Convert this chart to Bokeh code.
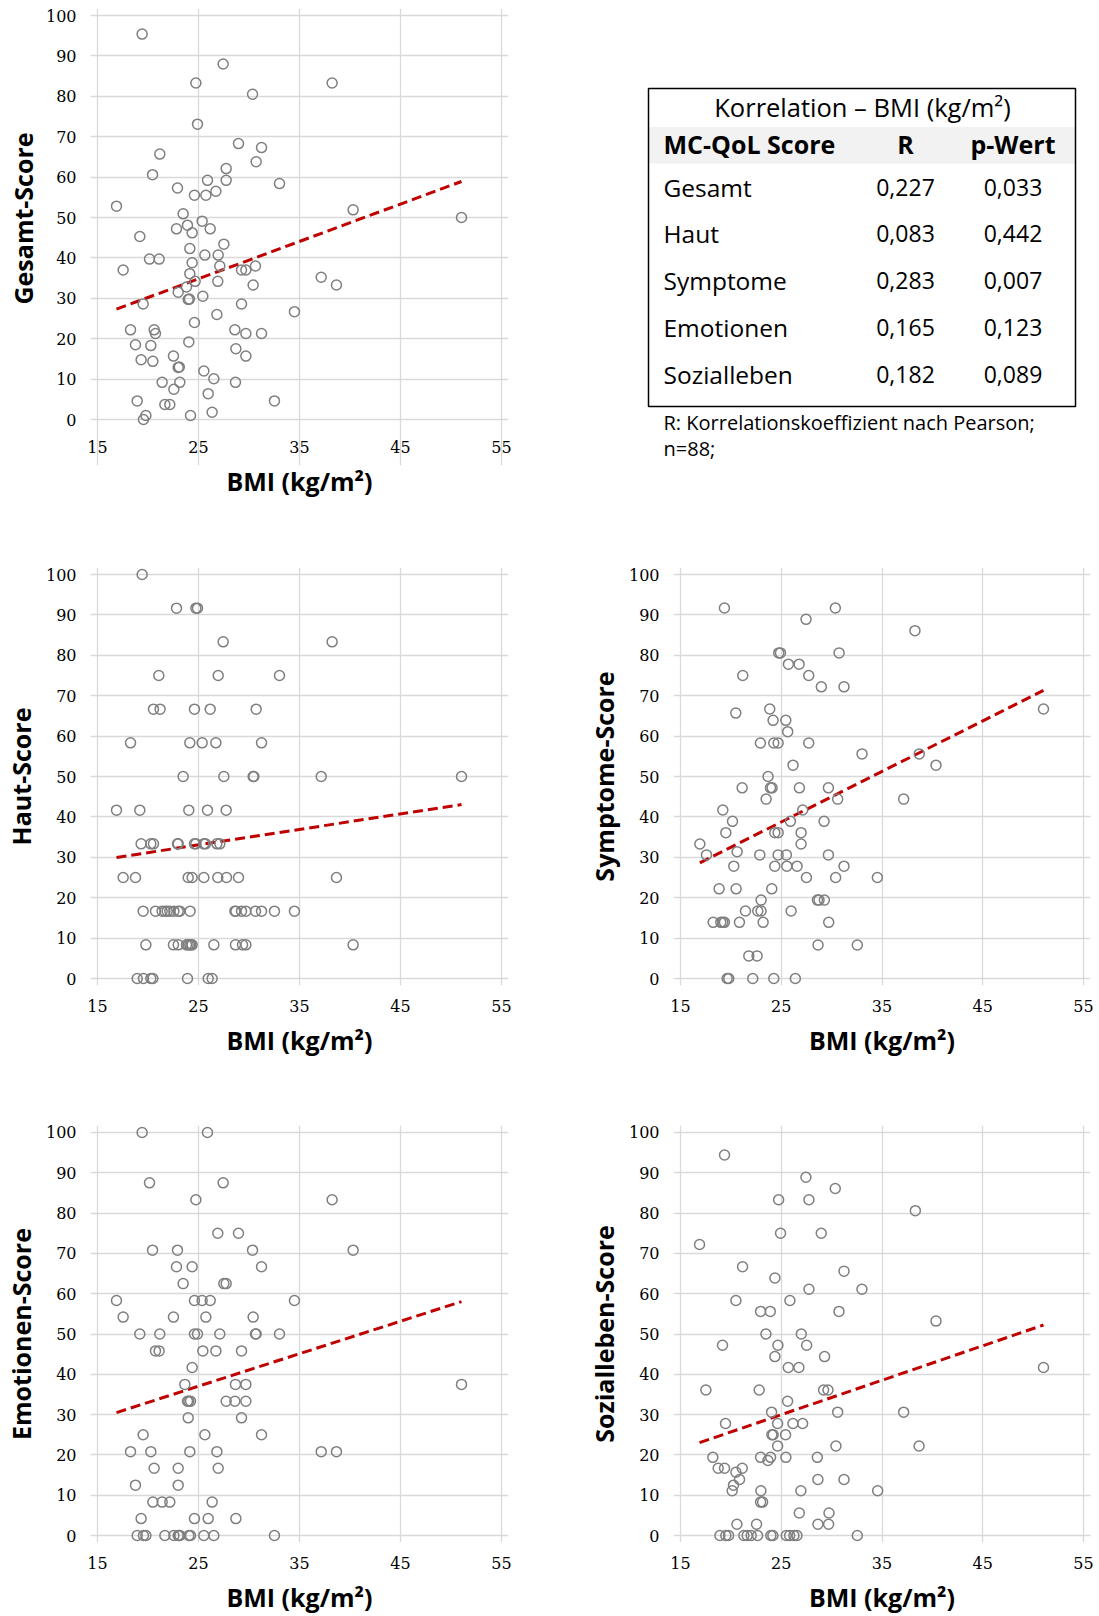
from bokeh.plotting import figure
from bokeh.layouts import row, column
from bokeh.models import Range1d, FixedTicker, Title
from bokeh.core.properties import value
from bokeh.embed import file_html
from bokeh.resources import INLINE

# ---------------------------------------------------------------- data
x_ticks = [15, 25, 35, 45, 55]
y_ticks = [0, 10, 20, 30, 40, 50, 60, 70, 80, 90, 100]
x_title = "BMI (kg/m²)"

gesamt_bmi = [19.42, 27.44, 24.74, 38.23, 30.35, 24.90, 28.96, 31.24, 21.17, 30.71,
              27.74, 20.45, 25.89, 27.74, 33.02, 22.92, 26.72, 24.60, 25.73, 16.88,
              40.31, 23.48, 51.04, 25.36, 23.91, 22.82, 26.16, 24.37, 19.19, 27.51,
              24.14, 20.15, 21.10, 25.63, 26.95, 24.37, 27.11, 30.64, 17.54, 29.26,
              29.69, 24.14, 37.15, 24.67, 26.91, 30.41, 38.66, 23.81, 22.99, 25.43,
              23.98, 24.10, 19.52, 29.26, 34.50, 26.82, 24.60, 18.27, 20.61, 20.74,
              28.60, 29.69, 31.24, 24.04, 18.76, 20.28, 28.70, 19.32, 20.48, 22.52,
              29.69, 22.99, 25.53, 26.52, 21.40, 23.15, 28.66, 22.56, 25.96, 18.93,
              32.52, 21.67, 22.16, 26.35, 19.79, 24.21, 19.55, 23.10]
gesamt_score = [95.4, 88.0, 83.3, 83.3, 80.5, 73.1, 68.3, 67.3, 65.7, 63.8,
                62.1, 60.6, 59.2, 59.2, 58.4, 57.3, 56.5, 55.5, 55.5, 52.8,
                51.9, 50.9, 50.0, 49.1, 48.1, 47.2, 47.2, 46.2, 45.3, 43.4,
                42.3, 39.7, 39.7, 40.7, 40.7, 38.8, 38.0, 38.0, 37.0, 37.0,
                37.0, 36.1, 35.2, 34.2, 34.2, 33.3, 33.3, 32.8, 31.5, 30.5,
                29.7, 29.8, 28.6, 28.6, 26.7, 26.0, 24.0, 22.2, 22.2, 21.3,
                22.2, 21.3, 21.3, 19.2, 18.5, 18.3, 17.5, 14.8, 14.4, 15.7,
                15.7, 12.9, 12.0, 10.1, 9.2, 9.2, 9.2, 7.5, 6.4, 4.6,
                4.6, 3.7, 3.7, 1.8, 1.0, 1.0, 0.0, 13.0]

haut_bmi = [19.42, 22.82, 24.74, 24.90, 27.44, 38.23, 21.07, 26.95, 33.02, 20.54,
            21.20, 24.60, 26.16, 30.71, 18.27, 24.14, 25.36, 26.72, 31.24, 23.48,
            27.51, 30.41, 30.48, 37.15, 51.04, 16.88, 19.19, 24.04, 25.89, 27.74,
            19.32, 20.28, 20.54, 22.92, 22.99, 24.60, 24.74, 25.53, 25.69, 26.82,
            27.11, 17.54, 18.76, 23.98, 24.37, 25.53, 26.91, 27.77, 28.96, 38.66,
            19.52, 20.74, 21.40, 21.67, 22.16, 22.56, 22.99, 23.15, 24.17, 28.60,
            28.70, 29.26, 29.69, 30.64, 31.24, 32.52, 34.50, 19.79, 22.52, 22.99,
            23.81, 23.98, 24.14, 24.37, 26.52, 28.66, 29.36, 29.69, 40.31, 18.93,
            19.55, 20.28, 20.48, 23.91, 25.96, 26.35, 24.25, 21.90]
haut_score = [100.0, 91.67, 91.67, 91.67, 83.33, 83.33, 75.0, 75.0, 75.0, 66.67,
              66.67, 66.67, 66.67, 66.67, 58.33, 58.33, 58.33, 58.33, 58.33, 50.0,
              50.0, 50.0, 50.0, 50.0, 50.0, 41.67, 41.67, 41.67, 41.67, 41.67,
              33.33, 33.33, 33.33, 33.33, 33.33, 33.33, 33.33, 33.33, 33.33, 33.33,
              33.33, 25.0, 25.0, 25.0, 25.0, 25.0, 25.0, 25.0, 25.0, 25.0,
              16.67, 16.67, 16.67, 16.67, 16.67, 16.67, 16.67, 16.67, 16.67, 16.67,
              16.67, 16.67, 16.67, 16.67, 16.67, 16.67, 16.67, 8.33, 8.33, 8.33,
              8.33, 8.33, 8.33, 8.33, 8.33, 8.33, 8.33, 8.33, 8.33, 0.0,
              0.0, 0.0, 0.0, 0.0, 0.0, 0.0, 8.33, 16.67]

symptome_bmi = [19.36, 30.37, 27.46, 38.27, 24.75, 24.92, 30.74, 25.71, 26.77, 21.18,
                27.73, 28.98, 31.23, 51.03, 23.86, 20.49, 24.19, 25.45, 25.64, 22.93,
                24.26, 24.69, 27.73, 33.02, 38.70, 26.17, 40.36, 23.69, 21.12, 23.93,
                24.09, 26.80, 29.68, 23.50, 30.60, 37.15, 19.20, 27.13, 20.16, 25.91,
                29.25, 19.50, 24.36, 24.69, 26.97, 16.92, 26.97, 17.58, 22.87, 24.69,
                25.51, 29.68, 20.62, 20.29, 24.36, 25.55, 26.57, 31.23, 27.50, 30.40,
                34.54, 18.83, 20.52, 24.06, 23.00, 28.59, 28.75, 29.28, 21.45, 22.67,
                23.00, 25.98, 18.24, 19.00, 19.36, 20.85, 23.20, 29.71, 28.65, 32.55,
                21.78, 22.60, 19.63, 19.79, 22.17, 24.26, 26.40, 19.20]
symptome_score = [91.7, 91.7, 88.9, 86.1, 80.6, 80.6, 80.6, 77.8, 77.8, 75.0,
                  75.0, 72.2, 72.2, 66.7, 66.7, 65.7, 63.9, 63.9, 61.1, 58.3,
                  58.3, 58.3, 58.3, 55.6, 55.6, 52.8, 52.8, 50.0, 47.2, 47.2,
                  47.2, 47.2, 47.2, 44.4, 44.4, 44.4, 41.7, 41.7, 38.9, 38.9,
                  38.9, 36.1, 36.1, 36.1, 36.1, 33.3, 33.3, 30.6, 30.6, 30.6,
                  30.6, 30.6, 31.4, 27.8, 27.8, 27.8, 27.8, 27.8, 25.0, 25.0,
                  25.0, 22.2, 22.2, 22.2, 19.4, 19.4, 19.4, 19.4, 16.7, 16.7,
                  16.7, 16.7, 13.9, 13.9, 13.9, 13.9, 13.9, 13.9, 8.3, 8.3,
                  5.6, 5.6, 0.0, 0.0, 0.0, 0.0, 0.0, 13.9]

emotionen_bmi = [19.42, 25.89, 20.15, 27.44, 24.74, 38.23, 26.91, 28.96, 20.45, 22.92,
                 30.35, 40.31, 22.82, 24.37, 31.24, 23.48, 27.51, 27.74, 16.88, 24.60,
                 25.36, 26.16, 34.50, 17.54, 22.52, 25.73, 30.41, 19.19, 21.17, 24.60,
                 24.90, 27.11, 30.64, 30.71, 33.02, 20.74, 21.10, 25.43, 26.72, 29.26,
                 24.37, 23.65, 28.66, 29.69, 51.04, 23.91, 24.04, 24.21, 27.74, 28.60,
                 29.69, 23.98, 29.26, 19.52, 25.63, 31.24, 18.27, 20.28, 24.14, 26.82,
                 37.15, 38.66, 20.61, 22.99, 26.95, 18.76, 22.99, 20.48, 21.40, 22.16,
                 26.35, 19.32, 24.60, 25.96, 28.70, 18.93, 19.55, 19.79, 21.67, 22.56,
                 22.99, 23.15, 24.04, 24.21, 25.53, 26.52, 32.52, 23.10]
emotionen_score = [100.0, 100.0, 87.5, 87.5, 83.3, 83.3, 75.0, 75.0, 70.8, 70.8,
                   70.8, 70.8, 66.7, 66.7, 66.7, 62.5, 62.5, 62.5, 58.3, 58.3,
                   58.3, 58.3, 58.3, 54.2, 54.2, 54.2, 54.2, 50.0, 50.0, 50.0,
                   50.0, 50.0, 50.0, 50.0, 50.0, 45.8, 45.8, 45.8, 45.8, 45.8,
                   41.7, 37.5, 37.5, 37.5, 37.5, 33.3, 33.3, 33.3, 33.3, 33.3,
                   33.3, 29.2, 29.2, 25.0, 25.0, 25.0, 20.8, 20.8, 20.8, 20.8,
                   20.8, 20.8, 16.7, 16.7, 16.7, 12.5, 12.5, 8.3, 8.3, 8.3,
                   8.3, 4.2, 4.2, 4.2, 4.2, 0.0, 0.0, 0.0, 0.0, 0.0,
                   0.0, 0.0, 0.0, 0.0, 0.0, 0.0, 0.0, 0.0]

sozial_bmi = [19.37, 27.45, 30.36, 24.74, 27.75, 38.31, 24.93, 28.97, 16.89, 21.16,
              31.23, 24.37, 27.75, 33.01, 20.50, 25.86, 22.95, 23.91, 30.73, 40.36,
              23.48, 26.99, 19.17, 24.67, 27.52, 24.37, 29.30, 25.70, 26.75, 51.03,
              17.52, 22.81, 29.20, 29.64, 25.63, 24.04, 30.60, 37.15, 19.47, 24.64,
              26.16, 27.12, 24.07, 24.20, 25.43, 24.64, 30.43, 38.68, 18.21, 22.95,
              23.94, 23.68, 25.46, 28.58, 18.74, 19.37, 21.13, 20.50, 20.86, 28.64,
              31.23, 20.26, 20.13, 22.98, 26.95, 34.57, 22.95, 23.15, 26.79, 29.74,
              20.60, 22.55, 28.64, 29.70, 18.91, 19.50, 19.77, 21.29, 21.62, 22.02,
              22.65, 23.97, 24.17, 25.50, 25.83, 26.26, 26.56, 32.55]
sozial_score = [94.4, 88.9, 86.1, 83.3, 83.3, 80.6, 75.0, 75.0, 72.2, 66.7,
                65.6, 63.9, 61.1, 61.1, 58.3, 58.3, 55.6, 55.6, 55.6, 53.2,
                50.0, 50.0, 47.2, 47.2, 47.2, 44.4, 44.4, 41.7, 41.7, 41.7,
                36.1, 36.1, 36.1, 36.1, 33.3, 30.6, 30.6, 30.6, 27.8, 27.8,
                27.8, 27.8, 25.0, 25.0, 25.0, 22.2, 22.2, 22.2, 19.4, 19.4,
                19.4, 18.6, 19.4, 19.4, 16.7, 16.7, 16.7, 15.7, 13.9, 13.9,
                13.9, 12.5, 11.1, 11.1, 11.1, 11.1, 8.3, 8.3, 5.6, 5.6,
                2.8, 2.8, 2.8, 2.8, 0.0, 0.0, 0.0, 0.0, 0.0, 0.0,
                0.0, 0.0, 0.0, 0.0, 0.0, 0.0, 0.0, 0.0]

# linear trend lines (intercept, slope)
gesamt_trend = (11.7, 0.925)
haut_trend = (23.5, 0.383)
symptome_trend = (7.46, 1.251)
emotionen_trend = (16.9, 0.806)
sozial_trend = (8.6, 0.855)

# correlation table
table_title = "Korrelation – BMI (kg/m²)"
table_header = ["MC-QoL Score", "R", "p-Wert"]
table_scores = ["Gesamt", "Haut", "Symptome", "Emotionen", "Sozialleben"]
table_r = [0.227, 0.083, 0.283, 0.165, 0.182]
table_p = [0.033, 0.442, 0.007, 0.123, 0.089]
table_notes = ["R: Korrelationskoeffizient nach Pearson;", "n=88;"]

# ---------------------------------------------------------------- style
TICK_FONT = "DejaVu Serif"
TEXT_FONT = "Open Sans"
GRID = "#d9d9d9"
MARK = "#7f7f7f"
TREND = "#c00000"
PAD = 7  # px of room around the data area so edge markers are not clipped


def scatter_panel(bmi, score, trend, ylabel, width, height, left, top, fw, fh,
                  pad_bottom=PAD):
    ux = PAD * 40.0 / fw
    uy = 100.0 / fh
    p = figure(width=width, height=height, output_backend="svg", toolbar_location=None,
               x_range=Range1d(15 - ux, 55 + ux),
               y_range=Range1d(-pad_bottom * uy, 100 + PAD * uy),
               min_border_left=left - PAD, min_border_top=top - PAD,
               min_border_right=width - left - fw - PAD,
               min_border_bottom=height - top - fh - pad_bottom)
    p.outline_line_color = None
    p.background_fill_color = "white"
    p.border_fill_color = "white"

    p.xgrid.ticker = FixedTicker(ticks=x_ticks)
    p.ygrid.ticker = FixedTicker(ticks=y_ticks)
    p.xgrid.bounds = (0, 100)
    p.ygrid.bounds = (15, 55)
    p.grid.grid_line_color = GRID
    p.grid.grid_line_width = 1.3

    p.xaxis.ticker = FixedTicker(ticks=x_ticks)
    p.yaxis.ticker = FixedTicker(ticks=y_ticks)
    for ax in (p.xaxis, p.yaxis):
        ax.axis_line_color = None
        ax.major_tick_line_color = None
        ax.minor_tick_line_color = None
        ax.major_tick_out = 0
        ax.major_tick_in = 0
        ax.minor_tick_out = 0
        ax.minor_tick_in = 0
        ax.major_label_text_font = TICK_FONT
        ax.major_label_text_font_size = "16px"
        ax.major_label_text_color = "black"
        ax.axis_label_text_font = TEXT_FONT
        ax.axis_label_text_font_style = "bold"
        ax.axis_label_text_font_size = "25px"
        ax.axis_label_text_color = "black"
    # tick labels sit 21 px below the zero line
    p.xaxis.major_label_standoff = 21 - pad_bottom
    p.yaxis.major_label_standoff = 14
    p.xaxis.axis_label = x_title
    p.xaxis.axis_label_standoff = 8

    if pad_bottom == PAD:
        p.yaxis.axis_label = ylabel
        p.yaxis.axis_label_standoff = 5
    else:
        # frame reaches below the data area: centre the title on 0..100 instead
        mid_from_bottom = pad_bottom + fh / 2.0
        p.add_layout(Title(text=ylabel, align="left",
                           offset=mid_from_bottom - 87,
                           text_font=TEXT_FONT, text_font_size="25px",
                           text_font_style="bold", text_color="black",
                           standoff=5), "left")

    a, b = trend
    tx = [min(bmi), max(bmi)]
    p.line(tx, [a + b * v for v in tx], line_color=TREND, line_width=3,
           line_dash="10 5")
    p.scatter(bmi, score, marker="circle", size=10, fill_color=None,
              line_color=MARK, line_width=1.5)
    return p


def table_panel(width, height, top, bottom):
    # frame spans page rows top..bottom; y data = page pixel rows
    t = figure(width=width, height=height, output_backend="svg", toolbar_location=None,
               x_range=Range1d(0, width), y_range=Range1d(bottom, top),
               min_border_left=0, min_border_right=0,
               min_border_top=top, min_border_bottom=height - bottom,
               x_axis_location=None, y_axis_location=None)
    t.grid.visible = False
    t.outline_line_color = None
    left, right, btop, bbot = 68, 495, 88, 406
    t.quad(left=left, right=right, top=126.5, bottom=163, fill_color="#f2f2f2",
           line_color=None)
    t.quad(left=left, right=right, top=btop, bottom=bbot, fill_color=None,
           line_color="black", line_width=1.5)

    font = value(TEXT_FONT)
    t.text(x=[282], y=[106.5], text=[table_title], text_font=font,
           text_font_size="25.5px", text_align="center", text_baseline="middle",
           text_color="black")
    t.text(x=[83], y=[143], text=[table_header[0]], text_font=font,
           text_font_size="25px", text_font_style="bold", text_align="left",
           text_baseline="middle", text_color="black")
    t.text(x=[325, 432.5], y=[143, 143], text=table_header[1:], text_font=font,
           text_font_size="25px", text_font_style="bold", text_align="center",
           text_baseline="middle", text_color="black")

    rows_y = [186.5 + 46.9 * i for i in range(len(table_scores))]
    fmt = lambda v: f"{v:.3f}".replace(".", ",")
    t.text(x=[83] * len(rows_y), y=rows_y, text=table_scores, text_font=font,
           text_font_size="24.5px", text_align="left", text_baseline="middle",
           text_color="black")
    t.text(x=[325] * len(rows_y), y=rows_y, text=[fmt(v) for v in table_r],
           text_font=font, text_font_size="23px", text_align="center",
           text_baseline="middle", text_color="black")
    t.text(x=[432.5] * len(rows_y), y=rows_y, text=[fmt(v) for v in table_p],
           text_font=font, text_font_size="23px", text_align="center",
           text_baseline="middle", text_color="black")
    t.text(x=[83, 83], y=[421.5, 448], text=table_notes, text_font=font,
           text_font_size="20px", text_align="left", text_baseline="middle",
           text_color="black")
    return t


# ---------------------------------------------------------------- layout
LW, RW = 580, 519
H1, H2, H3 = 555, 558, 503
P1_PAD_BOTTOM = 46  # keeps the table notes inside the shared first-row frame

p1 = scatter_panel(gesamt_bmi, gesamt_score, gesamt_trend, "Gesamt-Score",
                   LW, H1, 97, 15, 404, 404, pad_bottom=P1_PAD_BOTTOM)
pt = table_panel(RW, H1, 15 - PAD, 15 + 404 + P1_PAD_BOTTOM)
p2 = scatter_panel(haut_bmi, haut_score, haut_trend, "Haut-Score",
                   LW, H2, 97, 19, 404, 404)
p3 = scatter_panel(symptome_bmi, symptome_score, symptome_trend, "Symptome-Score",
                   RW, H2, 100, 19, 403, 404)
p4 = scatter_panel(emotionen_bmi, emotionen_score, emotionen_trend, "Emotionen-Score",
                   LW, H3, 97, 19, 404, 404)
p5 = scatter_panel(sozial_bmi, sozial_score, sozial_trend, "Sozialleben-Score",
                   RW, H3, 100, 19, 403, 404)

layout = column(row(p1, pt, spacing=0), row(p2, p3, spacing=0),
                row(p4, p5, spacing=0), spacing=0)

html = file_html(layout, INLINE, title="MC-QoL und BMI")
html = html.replace("<head>", "<head><style>html,body{margin:0;padding:0;}</style>", 1)
open("out.html", "w").write(html)
